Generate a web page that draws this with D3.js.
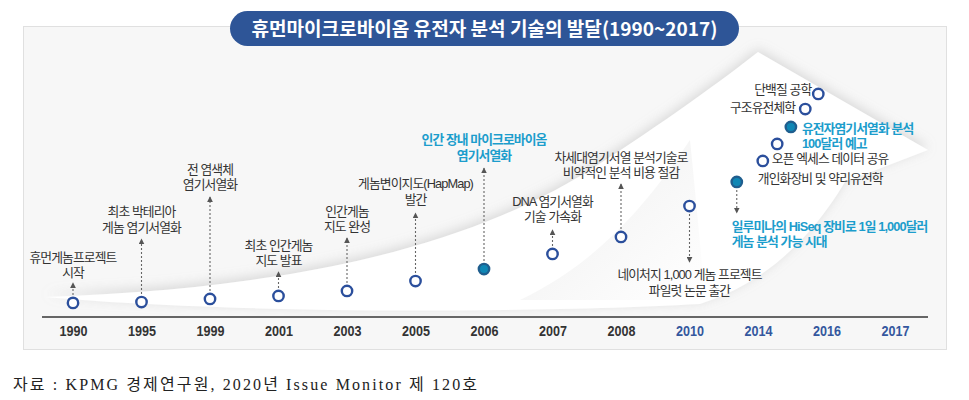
<!DOCTYPE html>
<html><head><meta charset="utf-8">
<script src="https://cdn.jsdelivr.net/npm/d3@7"></script>
<style>
html,body{margin:0;padding:0;background:#fff;}
svg{display:block;}
</style></head>
<body><svg id="chart" width="969" height="400"></svg>
<script>
// ---------------- data ----------------
const titleText = "휴먼마이크로바이옴 유전자 분석 기술의 발달(1990~2017)";
const sourceText = "자료 : KPMG 경제연구원, 2020년 Issue Monitor 제 120호";
const tickYears = ["1990","1995","1999","2001","2003","2005","2006","2007","2008","2010","2014","2016","2017"];
// position of each event along the year axis (index of tick, fractional for the 2014-2016 cluster)
const eventPos   = [0, 1, 2, 3, 4, 5, 6, 7, 8, 9, 9.69, 10.07, 10.28, 10.48, 10.69, 10.88];
// height of each event on the rising curve (0-100 scale)
const eventLevel = [1, 1.4, 2.9, 4.3, 6.7, 11.4, 17.1, 24.3, 32.4, 47.1, 58.6, 68.6, 76.7, 84.8, 93.3, 100.5];
const eventKey   = [false,false,false,false,false,false,true,false,false,false,true,false,false,true,false,false];
const eventText  = [
  ["휴먼게놈프로젝트","시작"],
  ["최초 박테리아","게놈 염기서열화"],
  ["전 염색체","염기서열화"],
  ["최초 인간게놈","지도 발표"],
  ["인간게놈","지도 완성"],
  ["게놈변이지도(HapMap)","발간"],
  ["인간 장내 마이크로바이옴","염기서열화"],
  ["DNA 염기서열화","기술 가속화"],
  ["차세대염기서열 분석기술로","비약적인 분석 비용 절감"],
  ["네이처지 1,000 게놈 프로젝트","파일럿 논문 출간"],
  ["일루미나의 HiSeq 장비로 1일 1,000달러","게놈 분석 가능 시대"],
  ["오픈 엑세스 데이터 공유","개인화장비 및 약리유전학"],
  [],
  ["유전자염기서열화 분석","100달러 예고"],
  ["구조유전체학"],
  ["단백질 공학"]
];

// ---------------- layout (pixels / styles) ----------------
const labelLayout = [
  {arrow:"up",  dy:-41, tip:-20},
  {arrow:"up",  dy:-86, tip:-63},
  {arrow:"up",  dy:-125,tip:-102},
  {arrow:"up",  dy:-46, tip:-24},
  {arrow:"up",  dy:-75, tip:-53},
  {arrow:"up",  dy:-93, tip:-68},
  {arrow:"up",  dy:-125,tip:-101},
  {arrow:"up",  dy:-48, tip:-24},
  {arrow:"up",  dy:-75, tip:-53},
  {arrow:"down",dy:73,  tip:56},
  {arrow:"down",dy:49,  tip:31, anchor:"start", dx:[-5,-5]},
  {anchor:"start", dy:2, lh:20, dx:[9,-5]},
  {},
  {anchor:"start", dy:6, dx:[11,11]},
  {anchor:"end", dy:3, dx:[-10]},
  {anchor:"end", dy:0, dx:[-7]}
];

const svg = d3.select("#chart");
const defs = svg.append("defs");

const x = d3.scaleLinear().domain([0, tickYears.length - 1]).range([73, 895]);
const y = d3.scaleLinear().domain([0, 100]).range([305, 95]);

// panel
svg.append("rect").attr("x",23.5).attr("y",26.5).attr("width",923).attr("height",323)
  .attr("fill","#f7f7f7").attr("stroke","#e0e0e0");

// ribbon background
const sh = defs.append("filter").attr("id","shadow").attr("x","-20%").attr("y","-30%").attr("width","140%").attr("height","160%");
sh.append("feDropShadow").attr("dx",0).attr("dy",-3).attr("stdDeviation",6).attr("flood-color","#a8a8a8").attr("flood-opacity",0.4);
const fold = defs.append("linearGradient").attr("id","fold").attr("x1","0").attr("y1","0").attr("x2","1").attr("y2","1");
fold.append("stop").attr("offset","0").attr("stop-color","#e0e0e0");
fold.append("stop").attr("offset","1").attr("stop-color","#ffffff");

svg.append("path")
  .attr("d","M45,297 C300,288 470,245 590,170 C665,122 725,78 758,52 L928,150 L845,182 C815,232 770,282 700,304 C520,314 220,313 45,297 Z")
  .attr("fill","#ffffff").attr("filter","url(#shadow)");
// inner fold of the ribbon
svg.append("path")
  .attr("d","M520,300 C600,262 650,200 690,140 C695,190 700,240 705,300 Z")
  .attr("fill","url(#fold)").attr("opacity",0.55);

// title pill
svg.append("rect").attr("x",230).attr("y",11).attr("width",509).attr("height",35).attr("rx",17.5)
  .attr("fill","#2e5597");
svg.append("text").attr("x",484.5).attr("y",35.5).attr("text-anchor","middle")
  .attr("font-family","'Noto Sans CJK KR','Noto Sans',sans-serif").attr("font-weight",700)
  .attr("font-size",19).attr("fill","#fff").attr("textLength",466).attr("lengthAdjust","spacingAndGlyphs")
  .text(titleText);

// axis
svg.append("line").attr("x1",42).attr("x2",928).attr("y1",317).attr("y2",317)
  .attr("stroke","#666").attr("stroke-width",2);
const axis = d3.axisBottom(x).tickValues(d3.range(tickYears.length)).tickFormat(i => tickYears[i]).tickSize(0).tickPadding(8);
const ag = svg.append("g").attr("transform","translate(0,317)").call(axis);
ag.select(".domain").remove();
ag.selectAll("text")
  .attr("font-family","'Liberation Sans',Arial,sans-serif")
  .attr("font-weight",700).attr("font-size",15.5)
  .attr("textLength",28).attr("lengthAdjust","spacingAndGlyphs")
  .attr("fill",(d,i) => i >= 9 ? "#34579e" : "#333");

// arrowhead marker
defs.append("marker").attr("id","ah").attr("viewBox","0 0 10 10").attr("refX",9).attr("refY",5)
  .attr("markerWidth",6).attr("markerHeight",6).attr("orient","auto").attr("markerUnits","userSpaceOnUse")
  .append("path").attr("d","M0,0 L10,5 L0,10 Z").attr("fill","#555");

const events = eventPos.map((p,i) => ({
  cx: x(p), cy: y(eventLevel[i]), key: eventKey[i], lines: eventText[i], lay: labelLayout[i]
}));

// dashed arrows
events.forEach(e => {
  if (!e.lay.arrow) return;
  const start = e.lay.arrow === "up" ? e.cy - 8 : e.cy + 8;
  svg.append("line").attr("x1",e.cx).attr("x2",e.cx).attr("y1",start).attr("y2",e.cy + e.lay.tip)
    .attr("stroke","#666").attr("stroke-width",1.1).attr("stroke-dasharray","2,2")
    .attr("marker-end","url(#ah)");
});

// labels
events.forEach(e => {
  if (!e.lines.length) return;
  const lh = e.lay.lh || 15.5;
  e.lines.forEach((l,j) => {
    const dx = e.lay.dx ? e.lay.dx[j] : 0;
    svg.append("text")
      .attr("font-family","'Liberation Sans','Noto Sans CJK KR',sans-serif")
      .attr("font-size",12.8).attr("letter-spacing","-0.9")
      .attr("font-weight", e.key ? 700 : 400)
      .attr("fill", e.key ? "#1c9dcc" : "#333")
      .attr("text-anchor", e.lay.anchor || "middle")
      .attr("x", e.cx + dx).attr("y", e.cy + e.lay.dy + j*lh).text(l);
  });
});

// points
svg.append("g").selectAll("circle").data(events).join("circle")
  .attr("cx",d => d.cx).attr("cy",d => d.cy).attr("r",5.2)
  .attr("fill",d => d.key ? "#0f87b5" : "#fff")
  .attr("stroke",d => d.key ? "#1f5e8e" : "#2b4f9c").attr("stroke-width",2.4);

// source
svg.append("text").attr("x",13).attr("y",390)
  .attr("font-family","'Liberation Serif','Noto Sans CJK KR',serif").attr("font-size",16)
  .attr("fill","#222").attr("textLength",464).attr("lengthAdjust","spacing")
  .text(sourceText);
</script>
</body></html>
